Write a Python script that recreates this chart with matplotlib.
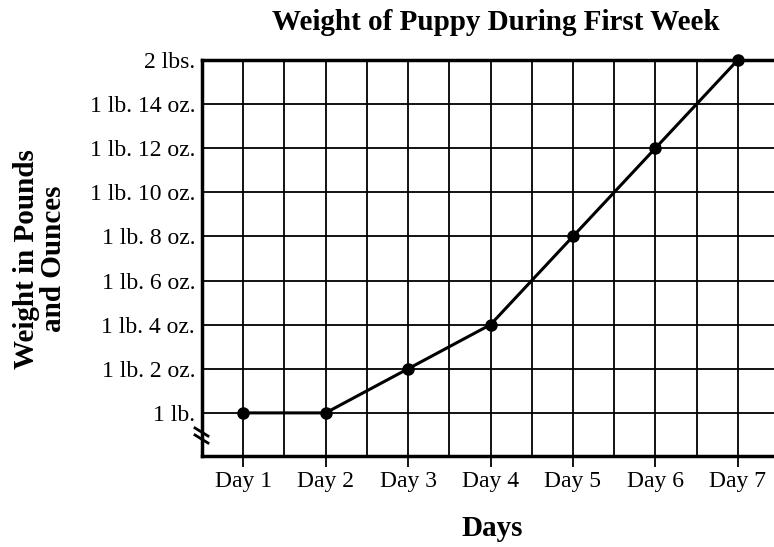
import matplotlib.pyplot as plt
from matplotlib.lines import Line2D

days = ["Day 1", "Day 2", "Day 3", "Day 4", "Day 5", "Day 6", "Day 7"]
weight_oz = [16, 16, 18, 20, 24, 28, 32]
y_ticks = [16, 18, 20, 22, 24, 26, 28, 30, 32]
y_labels = ["1 lb.", "1 lb. 2 oz.", "1 lb. 4 oz.", "1 lb. 6 oz.", "1 lb. 8 oz.",
            "1 lb. 10 oz.", "1 lb. 12 oz.", "1 lb. 14 oz.", "2 lbs."]

plt.rcParams['font.family'] = ['Liberation Serif', 'DejaVu Serif']

fig = plt.figure(figsize=(7.74, 5.47), dpi=100)
ax = fig.add_axes([202/774, 91/547, 577/774, 396/547])

x = list(range(1, len(days) + 1))
ax.set_xlim(0.5, 7.5)
ax.set_ylim(16 - 43/22, 32)

# grid: every half day vertically, every 2 oz horizontally
for xv in [0.5 + 0.5*i for i in range(1, 14)]:
    ax.axvline(xv, color='black', lw=1.3, zorder=1)
for yv in y_ticks[:-1]:
    ax.axhline(yv, color='black', lw=1.3, zorder=1)

ax.plot(x, weight_oz, color='black', lw=2.2, marker='o', markersize=8, zorder=3, clip_on=False)

ax.set_xticks(x)
ax.set_xticklabels(days, fontsize=17)
ax.set_yticks(y_ticks)
ax.set_yticklabels(y_labels, fontsize=17)
ax.tick_params(axis='x', length=8, width=1.3, pad=3)
ax.tick_params(axis='y', length=0, pad=5)

for s in ['left', 'bottom', 'top']:
    ax.spines[s].set_linewidth(2.5)
ax.spines['right'].set_visible(False)

# axis break marks
for dy in [0, 7]:
    fig.add_artist(Line2D([195/774, 208/774],
                          [(547 - 432 - dy + 4)/547, (547 - 432 - dy - 4)/547],
                          color='black', lw=2))

fig.text(496/774, 1 - 22/547, "Weight of Puppy During First Week", ha='center', va='center',
         fontsize=21, fontweight='bold')
fig.text(40/774, 1 - 259/547, "Weight in Pounds\nand Ounces", ha='center', va='center',
         rotation=90, fontsize=21, fontweight='bold', linespacing=1.0)
fig.text(492/774, 1 - 528/547, "Days", ha='center', va='center', fontsize=21, fontweight='bold')

fig.savefig("out.png", dpi=100)
